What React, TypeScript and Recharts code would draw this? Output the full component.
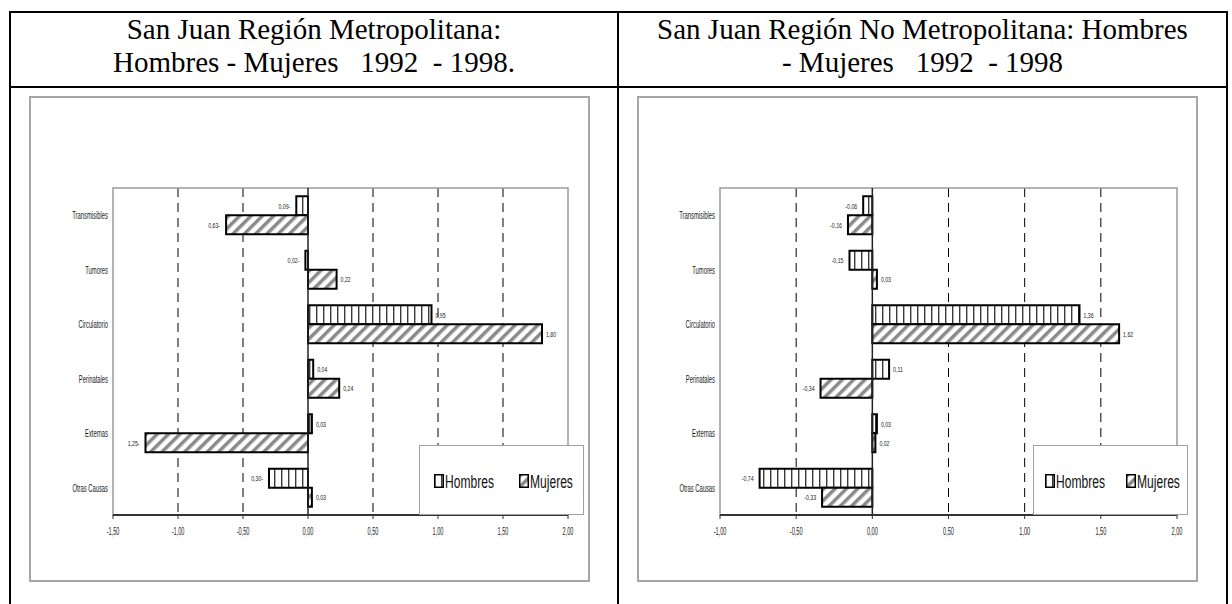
import React from 'react';
import {
    BarChart,
    Bar,
    XAxis,
    YAxis,
    CartesianGrid,
    ReferenceLine,
    ReferenceArea,
    LabelList,
    Legend
} from 'recharts';

// Diferencias 1992-1998 por grupo de causas
const causas = ['Transmisibles', 'Tumores', 'Circulatorio', 'Perinatales', 'Externas', 'Otras Causas'];

const metroHombres = [-0.09, -0.02, 0.95, 0.04, 0.03, -0.3];
const metroMujeres = [-0.63, 0.22, 1.8, 0.24, -1.25, 0.03];

const noMetroHombres = [-0.06, -0.15, 1.36, 0.11, 0.03, -0.74];
const noMetroMujeres = [-0.16, 0.03, 1.62, -0.34, 0.02, -0.33];

const metroTicks = [-1.5, -1, -0.5, 0, 0.5, 1, 1.5, 2];
const noMetroTicks = [-1, -0.5, 0, 0.5, 1, 1.5, 2];

const serifFont = "'Liberation Serif', 'Times New Roman', serif";
const sansFont = "'Liberation Sans', Arial, sans-serif";

const coma = (v: number) => Math.abs(v).toFixed(2).replace('.', ',');
const conSigno = (v: number) => (v < 0 ? '-' : '') + coma(v);
const signoAlFinal = (v: number) => coma(v) + (v < 0 ? '-' : '');

const XTick = (props: any) => {
    const { x, y, payload } = props;
    return (
        <text
            transform={`translate(${x},${y + 14}) scale(0.56,1)`}
            textAnchor="middle"
            fontSize={10}
            fill="#1a1a1a"
            fontFamily={sansFont}
        >
            {conSigno(payload.value)}
        </text>
    );
};

const CausaTick = (props: any) => {
    const { x, y, payload } = props;
    return (
        <text
            transform={`translate(${x},${y + 4}) scale(0.53,1)`}
            textAnchor="end"
            fontSize={11}
            fill="#1a1a1a"
            fontFamily={sansFont}
        >
            {payload.value}
        </text>
    );
};

const etiqueta = (fmt: (v: number) => string) => (props: any) => {
    const vb = props.viewBox ?? props;
    const { x, y, width, height } = vb;
    const v = Number(props.value);
    const izq = Math.min(x, x + width);
    const der = Math.max(x, x + width);
    const neg = v < 0;
    const px = neg ? izq - 6 : der + 4;
    return (
        <text
            transform={`translate(${px},${y + height / 2 + 3}) scale(0.65,1)`}
            textAnchor={neg ? 'end' : 'start'}
            fontSize={8}
            fill="#222"
            fontFamily={sansFont}
        >
            {fmt(v)}
        </text>
    );
};

interface LeyendaProps {
    id: string;
    hx: number;
    mx: number;
}

const Muestra = ({ fill, left }: { fill: string; left: number }) => (
    <svg width={10} height={14} style={{ position: 'absolute', left, top: 28 }}>
        <rect x={0.75} y={0.75} width={8.5} height={12.5} fill={fill} stroke="#000" strokeWidth={1.5} />
    </svg>
);

const textoLeyenda = (left: number): React.CSSProperties => ({
    position: 'absolute',
    left,
    top: 26,
    fontSize: 18,
    lineHeight: '20px',
    fontFamily: sansFont,
    color: '#111',
    whiteSpace: 'nowrap',
    transform: 'scaleX(0.67)',
    transformOrigin: 'left center'
});

const Leyenda = ({ id, hx, mx }: LeyendaProps) => (
    <div
        style={{
            position: 'relative',
            width: '100%',
            height: '100%',
            boxSizing: 'border-box',
            border: '1.5px solid #a0a0a0',
            background: '#fff'
        }}
    >
        <Muestra fill={`url(#${id}-h)`} left={hx} />
        <span style={textoLeyenda(hx + 11)}>Hombres</span>
        <Muestra fill={`url(#${id}-m)`} left={mx} />
        <span style={textoLeyenda(mx + 11)}>Mujeres</span>
    </div>
);

interface PanelProps {
    id: string;
    left: number;
    hombres: number[];
    mujeres: number[];
    ticks: number[];
    fmt: (v: number) => string;
    yWidth: number;
    right: number;
    legendLeft: number;
    legendWidth: number;
    hx: number;
    mx: number;
}

const Panel: React.FC<PanelProps> = ({ id, left, hombres, mujeres, ticks, fmt, yWidth, right, legendLeft, legendWidth, hx, mx }) => {
    const rows = causas.map((causa, i) => ({ causa, hombres: hombres[i], mujeres: mujeres[i] }));
    const min = ticks[0];
    const max = ticks[ticks.length - 1];
    const guias = ticks.filter((t) => t !== 0 && t !== min && t !== max);

    return (
        <div style={{ position: 'absolute', left, top: 96, width: 561, height: 486 }}>
            <div
                style={{
                    position: 'absolute',
                    inset: 0,
                    border: '2px solid #a6a6a6',
                    boxSizing: 'border-box'
                }}
            />
            <BarChart
                width={561}
                height={486}
                data={rows}
                layout="vertical"
                margin={{ top: 92, right, bottom: 37, left: 0 }}
                barCategoryGap="15%"
                barGap={0}
            >
                <defs>
                    <pattern id={`${id}-h`} patternUnits="userSpaceOnUse" width={7} height={10}>
                        <rect width={7} height={10} fill="#fff" />
                        <rect x={0} width={1.4} height={10} fill="#3a3a3a" />
                    </pattern>
                    <pattern id={`${id}-m`} patternUnits="userSpaceOnUse" width={8} height={8} patternTransform="rotate(45)">
                        <rect width={8} height={8} fill="#fff" />
                        <rect width={3.5} height={8} fill="#8a8a8a" />
                    </pattern>
                </defs>
                <CartesianGrid horizontal={false} stroke="#000" strokeDasharray="9 6" verticalValues={guias} />
                <ReferenceArea x1={min} x2={max} fill="none" stroke="#9a9a9a" strokeWidth={1.5} />
                <XAxis
                    type="number"
                    domain={[min, max]}
                    ticks={ticks}
                    interval={0}
                    height={30}
                    tickSize={4}
                    tickMargin={2}
                    axisLine={{ stroke: '#333', strokeWidth: 2 }}
                    tickLine={{ stroke: '#333' }}
                    tick={<XTick />}
                />
                <YAxis
                    type="category"
                    dataKey="causa"
                    width={yWidth}
                    interval={0}
                    axisLine={false}
                    tickLine={false}
                    tickSize={0}
                    tickMargin={5}
                    tick={<CausaTick />}
                />
                <ReferenceLine x={0} stroke="#222" strokeWidth={1.5} />
                <Bar dataKey="hombres" name="Hombres" fill={`url(#${id}-h)`} stroke="#000" strokeWidth={2} isAnimationActive={false}>
                    <LabelList dataKey="hombres" content={etiqueta(fmt)} />
                </Bar>
                <Bar dataKey="mujeres" name="Mujeres" fill={`url(#${id}-m)`} stroke="#000" strokeWidth={2} isAnimationActive={false}>
                    <LabelList dataKey="mujeres" content={etiqueta(fmt)} />
                </Bar>
                <Legend
                    layout="vertical"
                    align="center"
                    verticalAlign="middle"
                    wrapperStyle={{ left: legendLeft, top: 349, width: legendWidth, height: 70 }}
                    content={() => <Leyenda id={id} hx={hx} mx={mx} />}
                />
            </BarChart>
        </div>
    );
};

const linea = (left: number, top: number, width: number, height: number): React.CSSProperties => ({
    position: 'absolute',
    left,
    top,
    width,
    height,
    background: '#000'
});

const titulo = (left: number, width: number): React.CSSProperties => ({
    position: 'absolute',
    left,
    top: 13,
    width,
    textAlign: 'center',
    fontFamily: serifFont,
    fontSize: 29,
    lineHeight: '33px',
    color: '#000',
    whiteSpace: 'pre'
});

const App: React.FC = () => {
    return (
        <div style={{ position: 'absolute', left: 0, top: 0, width: 1232, height: 604, background: '#fff', overflow: 'hidden' }}>
            <div style={linea(9, 11, 1219, 2)} />
            <div style={linea(9, 86, 1219, 2)} />
            <div style={linea(9, 11, 2, 593)} />
            <div style={linea(617, 11, 2, 593)} />
            <div style={linea(1226, 11, 2, 593)} />

            <div style={titulo(11, 606)}>
                {'San Juan Región Metropolitana:\nHombres - Mujeres   1992  - 1998.'}
            </div>
            <div style={titulo(619, 607)}>
                {'San Juan Región No Metropolitana: Hombres\n- Mujeres   1992  - 1998'}
            </div>

            <Panel
                id="metro"
                left={29}
                hombres={metroHombres}
                mujeres={metroMujeres}
                ticks={metroTicks}
                fmt={signoAlFinal}
                yWidth={84}
                right={22}
                legendLeft={390}
                legendWidth={165}
                hx={14}
                mx={99}
            />
            <Panel
                id="nometro"
                left={637}
                hombres={noMetroHombres}
                mujeres={noMetroMujeres}
                ticks={noMetroTicks}
                fmt={conSigno}
                yWidth={83}
                right={21}
                legendLeft={396}
                legendWidth={155}
                hx={11}
                mx={92}
            />
        </div>
    );
};

export default App;
